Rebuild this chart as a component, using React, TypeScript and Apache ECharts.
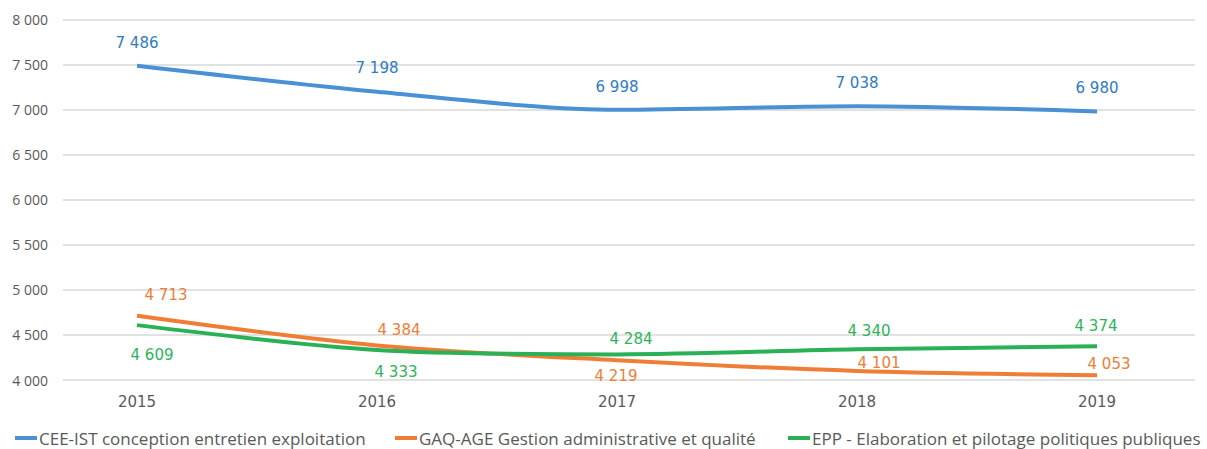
import React, { useEffect, useRef } from "react";
import * as echarts from "echarts";

const years = ["2015", "2016", "2017", "2018", "2019"];
const seriesNames = [
  "CEE-IST conception entretien exploitation",
  "GAQ-AGE Gestion administrative et qualité",
  "EPP - Elaboration et pilotage politiques publiques",
];
const ceeValues = [7486, 7198, 6998, 7038, 6980];
const gaqValues = [4713, 4384, 4219, 4101, 4053];
const eppValues = [4609, 4333, 4284, 4340, 4374];

const yMin = 4000;
const yMax = 8000;
const yStep = 500;

// label placement styles (offset from the point, px)
const ceeLabelOffsets = [[0, -23], [0, -24], [0, -23], [0, -23], [0, -23]];
const gaqLabelOffsets = [[29, -21], [22, -15], [-1, 16], [22, -8], [12, -11]];
const eppLabelOffsets = [[15, 30], [19, 22], [14, -15], [12, -18], [-1, -20]];

const lineColors = ["#4A90D4", "#F07D35", "#2AB057"];
const labelColors = ["#2E7BC4", "#F07D35", "#2DB45A"];

const fmt = (v: number) => {
  const s = String(Math.round(v));
  return s.replace(/\B(?=(\d{3})+(?!\d))/g, " ");
};

export default function App() {
  const ref = useRef<HTMLDivElement>(null);
  useEffect(() => {
    if (!ref.current) return;
    const chart = echarts.init(ref.current, null, { renderer: "svg" });
    const top = 19.5;
    const bottom = 449 - 380;
    const mkSeries = (i: number, values: number[], offs: number[][]) => ({
      type: "line",
      name: seriesNames[i],
      xAxisIndex: 0,
      yAxisIndex: 0,
      smooth: 0.3,
      symbol: "circle",
      symbolSize: 0.1,
      showSymbol: true,
      lineStyle: { color: lineColors[i], width: 4 },
      itemStyle: { color: lineColors[i] },
      data: values.map((v, j) => ({
        value: v,
        label: { offset: offs[j] },
      })),
      label: {
        show: true,
        position: "inside",
        color: labelColors[i],
        fontFamily: "DejaVu Sans",
        fontSize: 15,
        textBorderWidth: 0,
        formatter: (p: any) => fmt(p.value),
      },
      z: 3 + i,
    });
    chart.setOption({
      animation: false,
      grid: [
        { left: 137, right: 1207 - 1097, top, bottom },
        { left: 63, right: 12, top, bottom },
      ],
      legend: seriesNames.map((n, i) => ({
        data: [{ name: n, icon: "rect" }],
        left: [15, 395, 788][i],
        top: 429,
        itemWidth: 22,
        itemHeight: 4,
        itemGap: 0,
        padding: 0,
        textStyle: {
          color: "#595959",
          fontFamily: "Open Sans",
          fontSize: 17,
          lineHeight: 18,
          padding: [0, 0, 0, -3],
        },
      })),
      xAxis: [
        {
          type: "category",
          gridIndex: 0,
          data: years,
          boundaryGap: false,
          axisLine: { show: false },
          axisTick: { show: false },
          splitLine: { show: false },
          axisLabel: {
            color: "#595959",
            fontFamily: "DejaVu Sans",
            fontSize: 15,
            margin: 14,
          },
        },
        {
          type: "value",
          gridIndex: 1,
          show: false,
        },
      ],
      yAxis: [
        {
          type: "value",
          gridIndex: 0,
          min: yMin,
          max: yMax,
          interval: yStep,
          show: false,
          splitLine: { show: false },
        },
        {
          type: "value",
          gridIndex: 1,
          min: yMin,
          max: yMax,
          interval: yStep,
          axisLine: { show: false },
          axisTick: { show: false },
          splitLine: { show: true, lineStyle: { color: "#D9D9D9", width: 1.5 } },
          axisLabel: {
            color: "#595959",
            fontFamily: "Open Sans",
            fontSize: 14,
            margin: 15,
            formatter: (v: number) => fmt(v),
          },
        },
      ],
      series: [
        mkSeries(0, ceeValues, ceeLabelOffsets),
        mkSeries(1, gaqValues, gaqLabelOffsets),
        mkSeries(2, eppValues, eppLabelOffsets),
      ],
    });
    return () => chart.dispose();
  }, []);
  return (
    <div
      ref={ref}
      style={{ width: 1207, height: 449, position: "absolute", left: 0, top: 0, background: "#fff" }}
    />
  );
}
